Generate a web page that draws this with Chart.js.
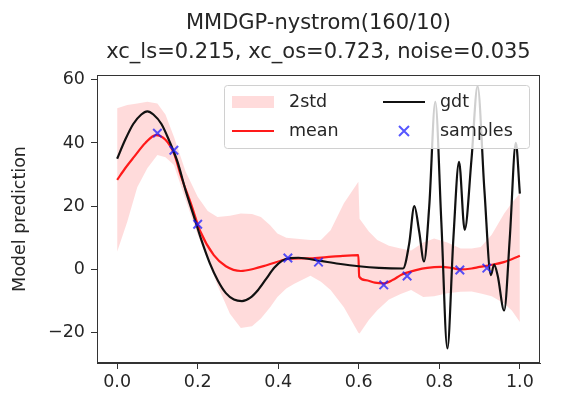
<!DOCTYPE html>
<html><head><meta charset="utf-8">
<script src="https://cdn.jsdelivr.net/npm/chart.js@4.4.1/dist/chart.umd.min.js"></script>
<style>html,body{margin:0;padding:0;background:#fff;}canvas{display:block;}</style>
</head><body>
<canvas id="c" width="561" height="395"></canvas>
<script>
const titleLines = ["MMDGP-nystrom(160/10)", "xc_ls=0.215, xc_os=0.723, noise=0.035"];
const yAxisLabel = "Model prediction";
const xTicks = [0, 0.2, 0.4, 0.6, 0.8, 1.0];
const xTickLabels = ["0.0", "0.2", "0.4", "0.6", "0.8", "1.0"];
const yTicks = [-20, 0, 20, 40, 60];
const yTickLabels = ["\u221220", "0", "20", "40", "60"];
const legendLabels = ["2std", "mean", "gdt", "samples"];

const gdtX = [0, 0.02, 0.04, 0.06, 0.075, 0.09, 0.11, 0.13, 0.15, 0.17, 0.19, 0.21, 0.23, 0.25, 0.27, 0.29, 0.31, 0.33, 0.35, 0.37, 0.39, 0.41, 0.43, 0.45, 0.5, 0.55, 0.6, 0.65, 0.71, 0.725, 0.738, 0.75, 0.762, 0.775, 0.79, 0.805, 0.82, 0.835, 0.849, 0.863, 0.88, 0.895, 0.912, 0.928, 0.936, 0.945, 0.961, 0.975, 0.99, 1.0];
const gdtY = [35, 41, 46, 49, 50, 49, 46, 40.5, 34, 25, 17, 9, 2, -3.5, -7.5, -9.5, -10, -9, -6.5, -3, 0.5, 2.8, 3.6, 3.7, 2.8, 1.8, 1.0, 0.5, 0.3, 8, 20, 12, 2.5, 20, 53, 15, -25, 10, 34, 12.5, 35, 58, 25, -1.8, 1.5, -2, -13, 10, 40, 24];

const meanX = [0, 0.02, 0.042, 0.07, 0.096, 0.12, 0.141, 0.16, 0.183, 0.207, 0.24, 0.27, 0.307, 0.34, 0.373, 0.423, 0.45, 0.48, 0.52, 0.56, 0.599, 0.601, 0.617, 0.64, 0.663, 0.685, 0.704, 0.72, 0.742, 0.77, 0.804, 0.83, 0.853, 0.88, 0.9, 0.928, 0.96, 1.0];
const meanY = [28.3, 32, 35.6, 40, 42.5, 41, 36.7, 29, 20.9, 11.9, 4.5, 1, -0.5, 0.2, 1.4, 3.3, 3.5, 3.5, 3.9, 4.3, 4.5, -2.3, -3.4, -4.2, -4.4, -3.3, -1.8, -1, -0.2, 0.5, 0.8, 0.5, 0, 0.3, 0.8, 1.4, 2.3, 4.3];

const bandX = [0, 0.025, 0.05, 0.075, 0.1, 0.12, 0.141, 0.17, 0.2, 0.225, 0.249, 0.28, 0.307, 0.335, 0.357, 0.38, 0.398, 0.42, 0.44, 0.48, 0.506, 0.53, 0.563, 0.599, 0.602, 0.625, 0.646, 0.675, 0.704, 0.73, 0.76, 0.787, 0.82, 0.853, 0.88, 0.903, 0.93, 0.961, 0.98, 1.0];
const upperY = [51, 52, 52.5, 53, 52.5, 49, 42, 31, 23, 18.5, 16.6, 17, 17.7, 17.5, 16.6, 14, 11.4, 10, 9.8, 9.3, 9.3, 12.4, 20.9, 27.7, 16, 12, 9.3, 7.5, 6.6, 6, 8.5, 9.8, 8.5, 6.6, 6.6, 7.1, 11, 17.7, 21, 24];
const lowerY = [5.6, 15, 26, 32, 36.2, 35.5, 33, 22, 11, 3, -5, -14, -18.5, -18, -15.5, -12, -8.7, -6, -4.5, -2, -3.9, -6.5, -12, -20, -20.3, -16, -12.9, -9.5, -7.8, -6.5, -8.7, -8.5, -7.5, -7.1, -7, -7.6, -8.5, -10.8, -13, -16.6];

const sampleX = [0.1, 0.141, 0.2, 0.424, 0.5, 0.662, 0.72, 0.851, 0.918];
const sampleY = [43.1, 37.7, 14.3, 3.6, 2.3, -4.9, -2.1, -0.2, 0.4];

const pts = (xs, ys) => xs.map((x, i) => ({x: x, y: ys[i]}));
const FONT = "'DejaVu Sans', sans-serif";
const TXT = '#262626';
const BAND = 'rgba(255,0,0,0.14)';
const MEAN = '#ff1a1a';
const GDT = '#111111';
const SAMP = 'rgba(30,30,255,0.75)';

const framePlugin = {
  id: 'frame',
  afterDatasetsDraw(chart) {
    const a = chart.chartArea, ctx = chart.ctx;
    ctx.save();
    ctx.strokeStyle = '#333'; ctx.lineWidth = 1;
    ctx.strokeRect(Math.round(a.left) + 0.5, Math.round(a.top) + 0.5, Math.round(a.right - a.left) - 1, Math.round(a.bottom - a.top) - 1);
    // legend
    const L = a.left + 127, T = a.top + 10, W = 305, H = 63;
    ctx.fillStyle = 'rgba(255,255,255,0.8)';
    ctx.strokeStyle = '#d0d0d0';
    ctx.beginPath();
    if (ctx.roundRect) ctx.roundRect(L + 0.5, T + 0.5, W, H, 3); else ctx.rect(L + 0.5, T + 0.5, W, H);
    ctx.fill(); ctx.stroke();
    const r1 = T + 17, r2 = T + 46;
    const c1 = L + 8, c2 = L + 159, hw = 42, tx = 57;
    ctx.fillStyle = BAND; ctx.fillRect(c1, r1 - 6, hw, 12);
    ctx.strokeStyle = MEAN; ctx.lineWidth = 2;
    ctx.beginPath(); ctx.moveTo(c1, r2); ctx.lineTo(c1 + hw, r2); ctx.stroke();
    ctx.strokeStyle = GDT;
    ctx.beginPath(); ctx.moveTo(c2, r1); ctx.lineTo(c2 + hw, r1); ctx.stroke();
    ctx.strokeStyle = SAMP; ctx.lineWidth = 2;
    const mx = c2 + hw / 2, s = 5;
    ctx.beginPath(); ctx.moveTo(mx - s, r2 - s); ctx.lineTo(mx + s, r2 + s); ctx.moveTo(mx - s, r2 + s); ctx.lineTo(mx + s, r2 - s); ctx.stroke();
    ctx.fillStyle = TXT; ctx.font = '17.5px ' + FONT; ctx.textBaseline = 'middle'; ctx.textAlign = 'left';
    ctx.fillText(legendLabels[0], c1 + tx, r1);
    ctx.fillText(legendLabels[1], c1 + tx, r2);
    ctx.fillText(legendLabels[2], c2 + tx, r1);
    ctx.fillText(legendLabels[3], c2 + tx, r2);
    // title
    ctx.textAlign = 'center'; ctx.font = '21px ' + FONT;
    const cx = (a.left + a.right) / 2;
    ctx.fillText(titleLines[0], cx, 24);
    ctx.fillText(titleLines[1], cx, 53);
    ctx.restore();
  }
};

new Chart(document.getElementById('c'), {
  type: 'scatter',
  data: {
    datasets: [
      {label: 'samples', data: pts(sampleX, sampleY), showLine: false, pointStyle: 'crossRot', pointRadius: 6, pointBorderWidth: 2, borderColor: SAMP, backgroundColor: SAMP, order: 0},
      {label: 'gdt', data: pts(gdtX, gdtY), showLine: true, borderColor: GDT, borderWidth: 2.2, pointRadius: 0, cubicInterpolationMode: 'monotone', fill: false, order: 1},
      {label: 'mean', data: pts(meanX, meanY), showLine: true, borderColor: MEAN, borderWidth: 2.2, pointRadius: 0, cubicInterpolationMode: 'monotone', fill: false, order: 2},
      {label: '2std', data: pts(bandX, upperY), showLine: true, borderWidth: 0, borderColor: 'rgba(0,0,0,0)', backgroundColor: BAND, pointRadius: 0, fill: '+1', order: 3},
      {label: '2std-low', data: pts(bandX, lowerY), showLine: true, borderWidth: 0, borderColor: 'rgba(0,0,0,0)', pointRadius: 0, fill: false, order: 4}
    ]
  },
  options: {
    responsive: false, animation: false, devicePixelRatio: 1,
    layout: {padding: {top: 75, right: 21, left: 0, bottom: 0}},
    plugins: {legend: {display: false}, tooltip: {enabled: false}, title: {display: false}},
    scales: {
      x: {
        type: 'linear', min: -0.05, max: 1.05,
        afterFit: s => { s.height = 32; },
        afterBuildTicks: s => { s.ticks = xTicks.map(v => ({value: v})); },
        ticks: {callback: (v) => xTickLabels[xTicks.indexOf(v)], font: {family: FONT, size: 17.5}, color: TXT, padding: 3, maxRotation: 0, autoSkip: false},
        grid: {drawOnChartArea: false, drawTicks: true, tickLength: 6, tickColor: '#333'},
        border: {display: true, color: '#333', width: 1}
      },
      y: {
        type: 'linear', min: -29.6, max: 61.5,
        afterFit: s => { s.width = 97; },
        afterBuildTicks: s => { s.ticks = yTicks.map(v => ({value: v})); },
        ticks: {callback: (v) => yTickLabels[yTicks.indexOf(v)], font: {family: FONT, size: 17.5}, color: TXT, padding: 6, autoSkip: false},
        grid: {drawOnChartArea: false, drawTicks: true, tickLength: 6, tickColor: '#333'},
        border: {display: true, color: '#333', width: 1},
        title: {display: true, text: yAxisLabel, font: {family: FONT, size: 17.5}, color: TXT, padding: {top: 10, bottom: 0}}
      }
    }
  },
  plugins: [framePlugin]
});
</script>
</body></html>
